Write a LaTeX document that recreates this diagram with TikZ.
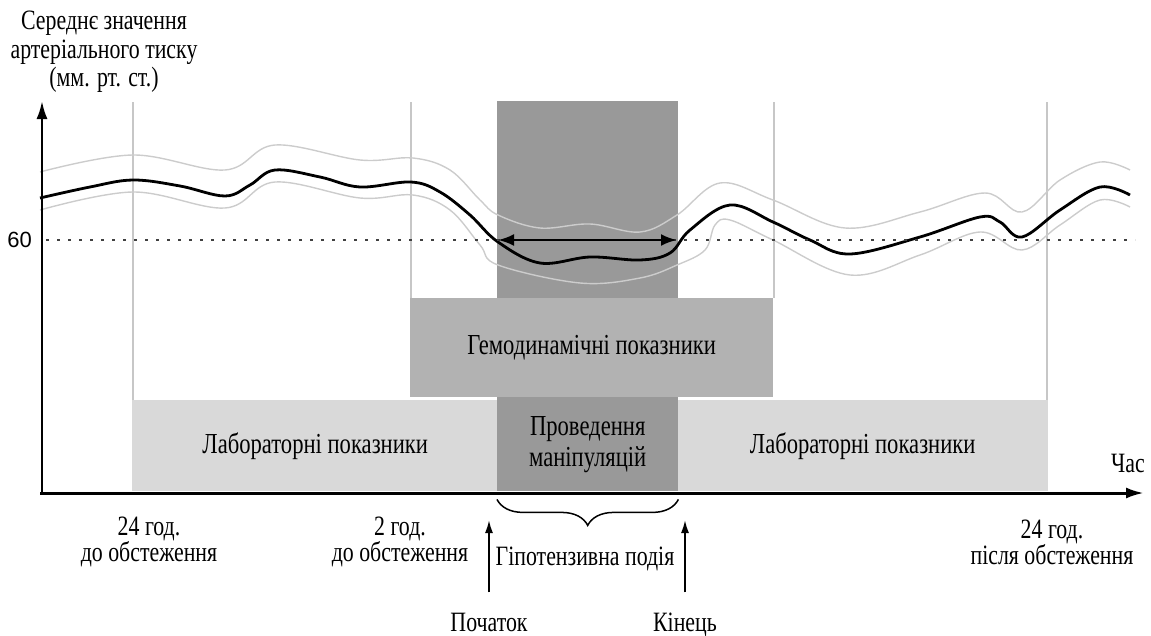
\documentclass[tikz,border=0pt]{standalone}
\usepackage{fontspec}
\setmainfont[FakeStretch=0.78]{Liberation Serif}
\newfontfamily\axisfont{Liberation Sans}
\usetikzlibrary{arrows.meta,%
                decorations.pathreplacing}

\begin{document}
\begin{tikzpicture}
  [x=1pt,y=-1pt,
   box/.style={inner sep=0pt,anchor=north west,align=center,font=\fontsize{29}{31}\selectfont},
   lbl/.style={align=center,font=\fontsize{28}{26}\selectfont,inner sep=1pt},
   vline/.style={draw=black!22,line width=1.5pt},
   band/.style={draw=black!20,line width=1.4pt},
   mean/.style={line width=2.8pt,line join=round},
   evarrow/.style={line width=1.8pt,-{Latex[length=13pt,width=8pt]}}]
  \useasboundingbox (0,0) rectangle (1151,635);

  % grid lines
  \foreach \x/\b in {133/400,411/298,774/298,1047/400}
    \draw[vline] (\x,102) -- (\x,\b);

  % blocks
  \fill[black!40] (497,101) rectangle (678,298);
  \node[box,fill=black!15,minimum width=366pt,minimum height=91pt] (lab1) at (132,400) {Лабораторні показники};
  \node[box,fill=black!15,minimum width=371pt,minimum height=91pt] (lab2) at (677,400) {Лабораторні показники};
  \node[box,fill=black!30,minimum width=363pt,minimum height=99pt] (hemo) at (410,298) {Гемодинамічні показники};
  \node[box,fill=black!40,minimum width=181pt,minimum height=94pt] (manip) at (497,397) {Проведення\\маніпуляцій};

  % pressure curves
  \draw[band] plot[smooth,tension=0.6] coordinates {(40,172) (133,155) (225,170) (275,145) (360,160) (413,158)
    (450,170) (480,200) (498,215) (540,228) (590,224) (640,232) (677,215) (720,183) (773,200) (845,228)
    (920,212) (985,193) (1022,212) (1060,180) (1100,162) (1130,170)};
  \draw[band] plot[smooth,tension=0.6] coordinates {(40,210) (133,192) (225,208) (275,182) (360,198) (413,195)
    (450,210) (480,245) (498,265) (580,283) (640,278) (677,265) (705,250) (715,225) (730,220) (773,240)
    (850,275) (920,255) (980,232) (1022,250) (1060,225) (1100,200) (1130,207)};
  \draw[mean] plot[smooth,tension=0.6] coordinates {(40,198) (90,187) (133,180) (180,186) (225,196) (250,185)
    (275,170) (320,177) (360,187) (411,182) (440,192) (470,215) (498,242) (540,263) (590,257) (640,260)
    (670,253) (690,230) (730,205) (773,222) (810,240) (850,254) (920,237) (980,217) (1000,222) (1022,237)
    (1060,210) (1100,187) (1130,195)};

  % threshold
  \draw[black!75,line width=2.8pt,dash pattern=on 2.8pt off 8.2pt] (46,240) -- (1135,240);
  \node[font=\axisfont\fontsize{22}{22}\selectfont,anchor=east,inner sep=1pt] (sixty) at (33,240) {60};
  \coordinate (a1) at (498,240);
  \coordinate (a2) at (677,240);
  \draw[line width=2.8pt,{Latex[length=16pt,width=12pt]}-{Latex[length=16pt,width=12pt]}] (a1) -- (a2);

  % axes
  \coordinate (O) at (42,493);
  \coordinate (yend) at (42,101);
  \coordinate (xend) at (1144,493);
  \draw[line width=2.5pt,-{Latex[length=18pt,width=11pt]}] (O) -- (yend);
  \draw[line width=3pt,-{Latex[length=18pt,width=11pt]}] (40,493) -- (xend);

  % labels
  \node[lbl,font=\fontsize{28}{28.5}\selectfont] (ylabel) at (104,52) {Середнє значення\\артеріального тиску\\(мм. рт. ст.)};
  \node[lbl,anchor=base] (time) at (1128,472) {Час};
  \node[lbl] (t24a) at (149,542) {24 год.\\до обстеження};
  \node[lbl] (t2) at (400,542) {2 год.\\до обстеження};
  \node[lbl] (t24b) at (1052,542) {24 год.\\після обстеження};
  \node[lbl,anchor=base] (hypo) at (585,565) {Гіпотензивна подія};
  \node[lbl,anchor=base] (start) at (489,631) {Початок};
  \node[lbl,anchor=base] (stop) at (685,631) {Кінець};

  % event
  \draw[line width=1.5pt,decorate,decoration={brace,mirror,amplitude=26pt,raise=8pt}] (manip.south west) -- (manip.south east);
  \coordinate (s0) at (489,520);
  \coordinate (s1) at (685,520);
  \draw[evarrow,shorten <=19pt] (start.north) -- (start.north |- s0);
  \draw[evarrow,shorten <=19pt] (stop.north) -- (stop.north |- s1);
\end{tikzpicture}
\end{document}
